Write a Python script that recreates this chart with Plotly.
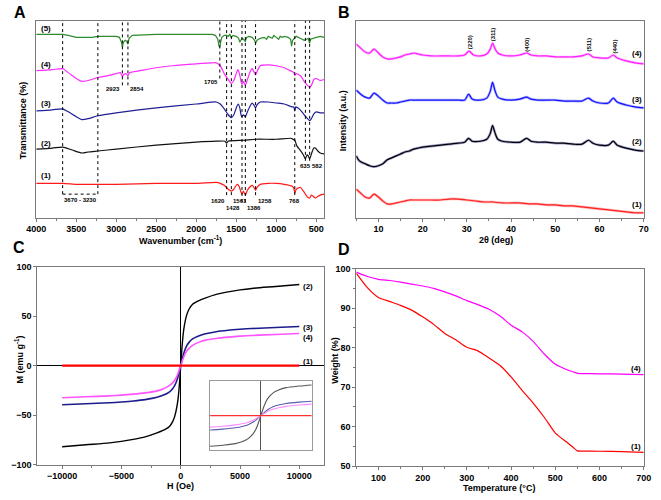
import plotly.graph_objects as go

# ---------------- Panel A : FTIR (offset transmittance, a.u.) ----------------
ftir1_wn = [4000, 3670, 3500, 3400, 3230, 3000, 2500, 2000, 1750, 1700, 1650, 1600, 1561, 1530, 1500, 1480, 1460, 1440, 1428, 1410, 1386, 1360, 1320, 1300, 1280, 1258, 1240, 1200, 1100, 1000, 900, 800, 780, 768, 750, 700, 660, 635, 610, 582, 560, 540, 510, 490, 450, 400]
ftir1_t = [35, 35, 34, 34, 34, 34, 35, 35, 36, 35, 33, 29, 27, 29, 33, 34, 31, 26, 24, 27, 23, 28, 32, 33, 31, 28, 31, 34, 35, 35, 34, 32, 30, 25, 29, 31, 27, 24, 21, 20, 23, 22, 20, 21, 23, 24]

ftir2_wn = [4000, 3800, 3670, 3550, 3430, 3350, 3230, 3000, 2500, 2000, 1750, 1640, 1620, 1600, 1400, 1258, 1000, 820, 790, 768, 740, 700, 660, 635, 615, 600, 582, 560, 530, 510, 480, 450, 400]
ftir2_t = [70, 71, 72, 69, 66, 67, 68, 70, 74, 77, 78, 78, 76, 78, 79, 80, 80, 81, 80, 79, 73, 69, 64, 60, 64, 63, 60, 65, 71, 71, 68, 66, 65]

ftir3_wn = [4000, 3800, 3670, 3600, 3500, 3430, 3350, 3230, 3000, 2500, 2000, 1750, 1700, 1650, 1600, 1561, 1530, 1500, 1475, 1455, 1440, 1428, 1410, 1386, 1360, 1320, 1300, 1280, 1258, 1240, 1200, 1100, 1000, 900, 800, 780, 768, 755, 700, 650, 620, 582, 560, 530, 500, 450, 400]
ftir3_t = [109, 110, 111, 108, 103, 100, 101, 104, 107, 112, 116, 118, 116, 111, 105, 102, 105, 112, 116, 112, 105, 103, 105, 103, 108, 115, 117, 115, 112, 115, 118, 118, 117, 116, 113, 113, 109, 113, 110, 105, 102, 99, 101, 106, 108, 107, 107]

ftir4_wn = [4000, 3800, 3670, 3600, 3500, 3430, 3350, 3230, 3100, 3000, 2950, 2935, 2923, 2905, 2880, 2854, 2830, 2700, 2500, 2300, 2000, 1800, 1750, 1700, 1650, 1600, 1561, 1530, 1500, 1480, 1460, 1440, 1428, 1410, 1386, 1360, 1320, 1300, 1280, 1258, 1240, 1200, 1100, 1000, 900, 850, 800, 780, 768, 750, 700, 650, 620, 582, 560, 530, 500, 450, 400]
ftir4_t = [150, 151, 152, 148, 142, 139, 140, 143, 145, 147, 148, 146, 144, 146, 147, 145, 148, 150, 153, 155, 157, 158, 158, 155, 147, 141, 137, 140, 147, 151, 147, 139, 136, 139, 135, 141, 150, 152, 149, 146, 149, 155, 156, 155, 153, 151, 149, 148, 145, 147, 145, 139, 136, 133, 135, 141, 142, 140, 141]

ftir5_wn = [4000, 3700, 3670, 3600, 3500, 3400, 3300, 3230, 3100, 3000, 2960, 2935, 2923, 2910, 2890, 2870, 2854, 2840, 2800, 2500, 2000, 1800, 1760, 1730, 1715, 1705, 1695, 1680, 1650, 1620, 1600, 1580, 1561, 1540, 1500, 1470, 1455, 1440, 1428, 1410, 1386, 1370, 1340, 1300, 1270, 1258, 1240, 1200, 1150, 1120, 1100, 1050, 1030, 1000, 970, 950, 920, 900, 850, 820, 808, 795, 768, 750, 700, 650, 620, 600, 590, 582, 570, 540, 500, 450, 400]
ftir5_t = [187, 187, 187, 186, 184, 184, 184, 185, 185, 185, 184, 179, 174, 179, 181, 180, 177, 183, 186, 187, 187, 187, 186, 182, 175, 174, 179, 184, 186, 186, 185, 187, 184, 186, 185, 183, 179, 181, 183, 182, 180, 184, 185, 184, 181, 178, 181, 183, 184, 182, 185, 183, 186, 184, 182, 185, 184, 185, 184, 182, 175, 181, 184, 185, 183, 181, 182, 183, 180, 178, 182, 183, 184, 185, 184]

ftir_peak_wn = [3670, 3230, 2923, 2854, 1705, 1620, 1561, 1428, 1386, 1258, 768, 635, 582]
ftir_peak_floor = [24, 24, 135, 135, 142, 23, 23, 16, 16, 23, 23, 58, 58]
ftir_band_label = "3670 - 3230"

# ---------------- Panel B : XRD (offset intensity, a.u.) ----------------
xrd1_2t = [5, 6, 7, 8, 9, 10, 11, 12, 13, 14, 15, 16, 17, 18, 20, 22, 24, 26, 28, 30, 32, 34, 36, 38, 40, 42, 44, 46, 48, 50, 52, 54, 56, 58, 60, 62, 64, 66, 68, 70]
xrd1_i = [29, 25, 21, 20, 24, 21, 17, 14, 14, 15, 16, 17, 18, 18, 18, 18, 18, 19, 19, 18, 17, 16, 16, 15, 15, 15, 14, 14, 13, 13, 12, 12, 11, 10, 9, 8, 7, 6, 5, 5]

xrd2_2t = [5, 5.5, 6, 7, 8, 9, 10, 11, 12, 13, 14, 15, 16, 17, 18, 19, 20, 22, 24, 26, 28, 29.5, 30.4, 31.2, 33, 34.5, 35.3, 35.8, 36.4, 37, 38, 40, 42, 43.5, 44.5, 46, 48, 50, 52, 54, 56, 57.5, 58.5, 60, 62, 63.1, 64, 66, 68, 70]
xrd2_i = [63, 59, 57, 55, 53, 52, 53, 55, 59, 61, 63, 65, 67, 68, 70, 71, 72, 73, 74, 75, 76, 77, 81, 78, 78, 80, 86, 94, 86, 80, 78, 77, 77, 81, 78, 77, 77, 76, 76, 75, 75, 79, 76, 74, 74, 78, 74, 71, 69, 68]

xrd3_2t = [5, 6, 7, 8, 9, 10, 11, 12, 13, 14, 15, 16, 17, 18, 20, 22, 24, 26, 28, 29.5, 30.4, 31.2, 33, 34.5, 35.3, 35.8, 36.4, 37, 38, 40, 42, 43.5, 44.5, 46, 48, 50, 52, 54, 56, 57.5, 58.5, 60, 62, 63.1, 64, 66, 68, 70]
xrd3_i = [130, 126, 123, 122, 127, 124, 120, 117, 117, 117, 118, 119, 120, 120, 120, 120, 120, 120, 120, 120, 126, 121, 120, 122, 129, 138, 129, 123, 121, 120, 121, 123, 121, 120, 120, 120, 119, 119, 119, 122, 119, 117, 117, 122, 118, 115, 113, 112]

xrd4_2t = [5, 6, 7, 8, 9, 10, 11, 12, 13, 14, 15, 16, 17, 18, 19, 20, 22, 24, 26, 28, 29.5, 30.5, 31.5, 33, 34.5, 35.3, 35.8, 36.4, 37, 38, 40, 42, 43.5, 44.5, 46, 48, 50, 52, 54, 56, 57.5, 58.5, 60, 62, 63.1, 64, 66, 68, 70]
xrd4_i = [177, 173, 169, 168, 172, 168, 164, 162, 162, 163, 164, 166, 167, 168, 167, 166, 165, 165, 165, 165, 166, 170, 166, 165, 167, 172, 178, 172, 168, 166, 165, 166, 168, 166, 165, 165, 164, 164, 164, 165, 167, 164, 163, 163, 166, 163, 160, 158, 157]

xrd_peak_2t = [30.7, 35.9, 43.7, 57.7, 63.6]
xrd_peak_hkl = ["(220)", "(311)", "(400)", "(511)", "(440)"]
xrd_peak_level = [179, 187, 177, 177, 175]

# ---------------- Panel C : VSM ----------------
vsm_H = [-10000, -8000, -6000, -5000, -4000, -3000, -2000, -1500, -1000, -700, -500, -300, -200, -100, 0, 100, 200, 300, 500, 700, 1000, 1500, 2000, 3000, 4000, 5000, 6000, 8000, 10000]
vsm_M1 = [0, 0, 0, 0, 0, 0, 0, 0, 0, 0, 0, 0, 0, 0, 0, 0, 0, 0, 0, 0, 0, 0, 0, 0, 0, 0, 0, 0, 0]
vsm_M2 = [-82, -80, -78, -76.5, -74.5, -72, -68, -65.5, -62, -57, -51, -40, -31, -17, 0, 17, 31, 40, 51, 57, 62, 65.5, 68, 72, 74.5, 76.5, 78, 80, 82]
vsm_M3 = [-39.5, -38.5, -37.5, -36.7, -35.7, -34.3, -32, -30, -27, -23.5, -20, -14, -10, -5, 0, 5, 10, 14, 20, 23.5, 27, 30, 32, 34.3, 35.7, 36.7, 37.5, 38.5, 39.5]
vsm_M4 = [-32.5, -31.5, -30.5, -29.8, -28.8, -27.5, -25.5, -23.5, -20.5, -17.5, -14.5, -10, -7, -3.5, 0, 3.5, 7, 10, 14.5, 17.5, 20.5, 23.5, 25.5, 27.5, 28.8, 29.8, 30.5, 31.5, 32.5]

# ---------------- Panel D : TGA ----------------
tga_T = [50, 75, 100, 125, 150, 175, 200, 225, 250, 275, 300, 325, 350, 375, 400, 425, 450, 475, 500, 525, 540, 550, 560, 600, 650, 700]
tga_W1 = [98.8, 95.2, 92.7, 91.7, 90.7, 89.5, 87.8, 85.9, 83.6, 82.0, 80.1, 79.2, 77.4, 75.5, 72.6, 69.2, 66.0, 62.4, 58.4, 56.2, 54.8, 53.9, 53.85, 53.8, 53.7, 53.5]
tga_W4 = [99.1, 98.0, 97.3, 97.0, 96.6, 96.1, 95.6, 95.0, 94.1, 93.1, 91.9, 90.9, 89.7, 88.0, 85.7, 84.0, 81.6, 78.4, 75.8, 74.5, 73.9, 73.5, 73.45, 73.4, 73.3, 73.2]

sample_labels = ["(1)", "(2)", "(3)", "(4)", "(5)"]

# ---------------- styling ----------------
FONT = "Liberation Sans, Arial, sans-serif"
FRAME = "#7a7a7a"
RED, BLACK, NAVY, MAG, GREEN = "#ff1a1a", "#111111", "#1f1f96", "#ff2bff", "#2e8b2e"

fig = go.Figure()

def line(x, y, color, xa, ya, width=1.2, shape="spline", smoothing=0.6, opacity=1):
    fig.add_trace(go.Scatter(x=x, y=y, mode="lines", xaxis=xa, yaxis=ya, opacity=opacity,
                             line=dict(color=color, width=width, shape=shape,
                                       smoothing=smoothing if shape == "spline" else None),
                             hoverinfo="skip", showlegend=False))

# Panel A
line(ftir1_wn, ftir1_t, RED, "x", "y")
line(ftir2_wn, ftir2_t, BLACK, "x", "y")
line(ftir3_wn, ftir3_t, NAVY, "x", "y")
line(ftir4_wn, ftir4_t, MAG, "x", "y")
line(ftir5_wn, ftir5_t, GREEN, "x", "y", shape="linear")

# Panel B (light halo for the noisy look, then the main line)
for xs, ys, c, halo in [(xrd1_2t, xrd1_i, "#ff2020", "#ffb4b4"),
                        (xrd2_2t, xrd2_i, "#000000", "#a0a0cc"),
                        (xrd3_2t, xrd3_i, "#1414ff", "#b0b0ff"),
                        (xrd4_2t, xrd4_i, "#ff1cff", "#ffb8ff")]:
    line(xs, ys, halo, "x2", "y2", width=2.6, smoothing=0.8)
    line(xs, ys, c, "x2", "y2", width=1.2, smoothing=0.8)

# Panel C
line(vsm_H, vsm_M2, "#000000", "x3", "y3", width=1.4, smoothing=0.8)
line(vsm_H, vsm_M3, "#1c1c8c", "x3", "y3", width=1.6, smoothing=0.8)
line(vsm_H, vsm_M4, "#ff55ff", "x3", "y3", width=1.6, smoothing=0.8)
line(vsm_H, vsm_M1, "#ff0000", "x3", "y3", width=2.2, shape="linear")
# inset (same data, zoomed)
line(vsm_H, vsm_M2, "#555555", "x5", "y5", width=1.1, smoothing=0.8)
line(vsm_H, vsm_M3, "#5a5ab0", "x5", "y5", width=1.1, smoothing=0.8)
line(vsm_H, vsm_M4, "#ff8cff", "x5", "y5", width=1.1, smoothing=0.8)
line(vsm_H, vsm_M1, "#ff3030", "x5", "y5", width=1.1, shape="linear")

# Panel D
line(tga_T, tga_W4, "#ff00ff", "x4", "y4", width=1.2, smoothing=0.5)
line(tga_T, tga_W1, "#ff0000", "x4", "y4", width=1.2, smoothing=0.5)

# dotted guide lines in A
for wn, floor in zip(ftir_peak_wn, ftir_peak_floor):
    fig.add_shape(type="line", xref="x", yref="y", x0=wn, x1=wn, y0=floor, y1=201,
                  line=dict(color="black", width=1, dash="dot"))
fig.add_shape(type="line", xref="x", yref="y", x0=ftir_peak_wn[0], x1=ftir_peak_wn[1], y0=24, y1=24,
              line=dict(color="black", width=1, dash="dot"))

tick_font = dict(family=FONT, size=9, color="black", weight="bold")

def frame(**kw):
    d = dict(showline=True, mirror=True, linecolor=FRAME, linewidth=1, showgrid=False, zeroline=False,
             tickfont=tick_font, ticks="outside", ticklen=3, tickcolor=FRAME)
    d.update(kw)
    return d

X_L, X_R = 27 / 661, 323 / 661
X2_L, X2_R = 356 / 661, 651.5 / 661
fig.update_layout(
    width=661, height=500, margin=dict(l=0, r=0, t=0, b=0),
    paper_bgcolor="white", plot_bgcolor="white",
    xaxis=frame(domain=[X_L, X_R], anchor="y", range=[4000, 400], dtick=500, tick0=500,
                minor=dict(dtick=250, ticks="outside", ticklen=2, tickcolor=FRAME)),
    yaxis=frame(domain=[1 - 217 / 500, 1 - 16 / 500], anchor="x", range=[0, 201],
                showticklabels=False, ticks=""),
    xaxis2=frame(domain=[X2_L, X2_R], anchor="y2", range=[5, 70], dtick=10, tick0=0,
                 minor=dict(dtick=5, ticks="outside", ticklen=2, tickcolor=FRAME)),
    yaxis2=frame(domain=[1 - 217 / 500, 1 - 16 / 500], anchor="x2", range=[0, 201],
                 showticklabels=False, ticks=""),
    xaxis3=frame(domain=[28 / 661, 323 / 661], anchor="y3", range=[-12100, 12100], dtick=5000, tick0=0,
                 tickformat="d", zeroline=True, zerolinecolor="black", zerolinewidth=1,
                 minor=dict(dtick=2500, ticks="outside", ticklen=2, tickcolor=FRAME)),
    yaxis3=frame(domain=[1 - 469 / 500, 1 - 267 / 500], anchor="x3", range=[-100, 100], dtick=50, tick0=0,
                 zeroline=True, zerolinecolor="black", zerolinewidth=1),
    xaxis4=frame(domain=[X2_L, X2_R], anchor="y4", range=[50, 700], dtick=100, tick0=0,
                 minor=dict(dtick=50, ticks="outside", ticklen=2, tickcolor=FRAME)),
    yaxis4=frame(domain=[1 - 470.7 / 500, 1 - 269 / 500], anchor="x4", range=[50, 100], dtick=10, tick0=0,
                 minor=dict(dtick=5, ticks="outside", ticklen=2, tickcolor=FRAME)),
    xaxis5=dict(domain=[205.7 / 661, 310 / 661], anchor="y5", range=[-2000, 2000], showline=True, mirror=True,
                linecolor="#9a9a9a", showticklabels=False, ticks="", showgrid=False,
                zeroline=True, zerolinecolor="#555555", zerolinewidth=1),
    yaxis5=dict(domain=[1 - 454 / 500, 1 - 384 / 500], anchor="x5", range=[-76, 76], showline=True, mirror=True,
                linecolor="#9a9a9a", showticklabels=False, ticks="", showgrid=False, zeroline=False),
)

def ann(text, x, y, xref="paper", yref="paper", size=9, angle=0, xanchor="center", yanchor="middle", family=FONT):
    fig.add_annotation(text=text, x=x, y=y, xref=xref, yref=yref, showarrow=False, textangle=angle,
                       xanchor=xanchor, yanchor=yanchor,
                       font=dict(family=family, size=size, color="black", weight="bold"))

# panel letters
ann("A", 10 / 661, 1 - 8 / 500, size=16)
ann("B", 343 / 661, 1 - 8 / 500, size=16)
ann("C", 9 / 661, 1 - 247 / 500, size=16)
ann("D", 343 / 661, 1 - 249 / 500, size=16)

# axis titles
ann("Wavenumber (cm<sup>-1</sup>)", 175 / 661, 1 - 240 / 500)
ann("Transmittance (%)", 13 / 661, 1 - 118 / 500, angle=-90)
ann("2θ (deg)", 500 / 661, 1 - 240 / 500)
ann("Intensity (a.u.)", 342 / 661, 1 - 118 / 500, angle=-90)
ann("H (Oe)", 175 / 661, 1 - 491 / 500)
ann("M (emu g<sup>-1</sup>)", 9 / 661, 1 - 362 / 500, angle=-90)
ann("Temperature (°C)", 503 / 661, 1 - 493 / 500)
ann("Weight (%)", 334 / 661, 1 - 363 / 500, angle=-90)

# curve labels
for lab, yv in zip(sample_labels, [43, 76, 116, 156, 193]):
    ann(lab, 3880, yv, xref="x", yref="y", size=8)
for lab, yv in zip(sample_labels[:4], [13, 78, 121, 168]):
    ann(lab, 68.5, yv, xref="x2", yref="y2", size=8)
for lab, yv in zip(sample_labels[:4], [4, 80, 39, 28.5]):
    ann(lab, 10700, yv, xref="x3", yref="y3", size=8)
ann(sample_labels[0], 683, 55.1, xref="x4", yref="y4", size=8)
ann(sample_labels[3], 683, 74.8, xref="x4", yref="y4", size=8)

# FTIR peak labels
ann(ftir_band_label, 3450, 18, xref="x", yref="y", size=6)
ann("2923", 2923, 131, xref="x", yref="y", size=6, xanchor="right")
ann("2854", 2854, 131, xref="x", yref="y", size=6, xanchor="left")
ann("1705", 1705, 138, xref="x", yref="y", size=6, xanchor="right")
ann("1620", 1620, 17, xref="x", yref="y", size=6, xanchor="right")
ann("1561", 1561, 17, xref="x", yref="y", size=6, xanchor="left")
ann("1428", 1428, 10, xref="x", yref="y", size=6, xanchor="right")
ann("1386", 1386, 10, xref="x", yref="y", size=6, xanchor="left")
ann("1258", 1258, 17, xref="x", yref="y", size=6, xanchor="left")
ann("768", 768, 17, xref="x", yref="y", size=6)
ann("635", 635, 53, xref="x", yref="y", size=6)
ann("582", 582, 53, xref="x", yref="y", size=6, xanchor="left")

# XRD hkl labels
for t, hkl, lv in zip(xrd_peak_2t, xrd_peak_hkl, xrd_peak_level):
    ann(hkl, t, lv, xref="x2", yref="y2", size=6, angle=-90)

fig.write_html("out.html", config={"displayModeBar": False},
               post_script="document.body.style.margin='0px';")
